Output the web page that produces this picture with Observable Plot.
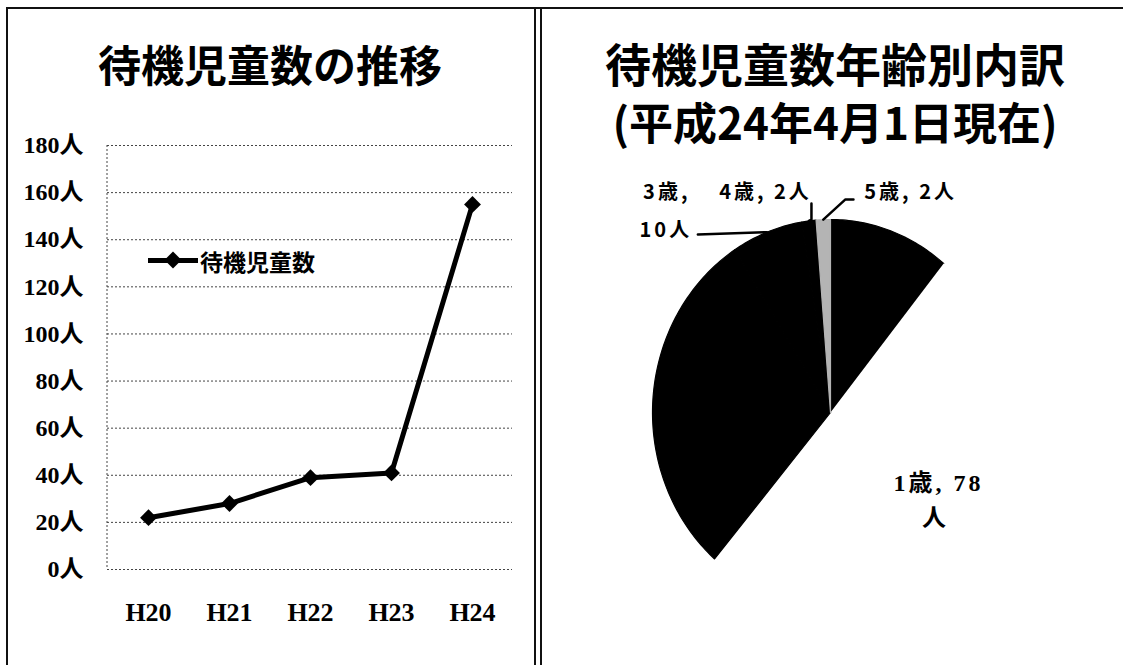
<!DOCTYPE html>
<html>
<head>
<meta charset="utf-8">
<script src="https://cdn.jsdelivr.net/npm/d3@7"></script>
<script src="https://cdn.jsdelivr.net/npm/@observablehq/plot@0.6"></script>
<style>
  html, body { margin: 0; padding: 0; background: #fff; }
  #stage { position: relative; width: 1123px; height: 665px; overflow: hidden; background: #fff; }
  .vline { position: absolute; background: #111; width: 2px; }
  .hline { position: absolute; background: #111; height: 2px; }
  .title { position: absolute; font-family: "Noto Sans CJK JP", sans-serif; font-weight: 700; color: #000; white-space: nowrap; text-align: center; }
  #left { position: absolute; left: 0; top: 120px; width: 534px; height: 545px; }
  #right { position: absolute; left: 541px; top: 150px; width: 582px; height: 515px; }
  #left svg, #right svg { max-width: none !important; display: block; }
  #legend { position: absolute; left: 148px; top: 248px; height: 24px; font-family: "Noto Sans CJK JP", sans-serif; font-weight: 700; font-size: 23px; color: #000; }
  #legend .ln { position: absolute; left: 0; top: 10px; width: 50px; height: 5px; background: #000; }
  #legend .dm { position: absolute; left: 19px; top: 6px; width: 12px; height: 12px; background: #000; transform: rotate(45deg); }
  #legend .tx { position: absolute; left: 52px; top: -4px; white-space: nowrap; }
  .pie text { letter-spacing: 3px; }
</style>
</head>
<body>
<div id="stage">
  <div class="hline" style="left:6px; top:7px; width:1117px;"></div>
  <div class="vline" style="left:6px; top:7px; height:658px;"></div>
  <div class="vline" style="left:534px; top:7px; height:658px;"></div>
  <div class="vline" style="left:540px; top:7px; height:658px;"></div>

  <div class="title" style="left:60px; width:420px; top:33px; font-size:43px; line-height:60px;">待機児童数の推移</div>
  <div class="title" style="left:555px; width:560px; top:33px; font-size:46px; line-height:58px;">待機児童数年齢別内訳</div>
  <div class="title" style="left:555px; width:560px; top:92px; font-size:44px; line-height:58px;">(平成24年4月1日現在)</div>

  <div id="left"></div>
  <div id="right"></div>
  <div id="legend"><div class="ln"></div><div class="dm"></div><div class="tx">待機児童数</div></div>
</div>
<script>
// ---- data ----
const years = ["H20", "H21", "H22", "H23", "H24"];
const waiting = [22, 28, 39, 41, 155];
const yTicks = [0, 20, 40, 60, 80, 100, 120, 140, 160, 180];

const ages = ["0歳", "1歳", "2歳", "3歳", "4歳", "5歳"];
const ageCounts = [17, 78, 46, 10, 2, 2];
const sliceColors = ["#000", "#fff", "#000", "#000", "#000", "#b4b4b4"];

// ---- line chart ----
const lineData = years.map((y, i) => ({year: y, count: waiting[i]}));

const frameLeft = (index, scales, values, dims) => {
  const g = d3.create("svg:line")
    .attr("x1", dims.marginLeft).attr("x2", dims.marginLeft)
    .attr("y1", scales.y(180)).attr("y2", scales.y(0))
    .attr("stroke", "#444").attr("stroke-dasharray", "2,2");
  return g.node();
};

const left = Plot.plot({
  width: 534,
  height: 545,
  marginLeft: 107,
  marginRight: 22,
  marginTop: 25,
  marginBottom: 96,
  style: {maxWidth: "none", overflow: "visible"},
  x: {type: "point", domain: years, padding: 0.5},
  y: {domain: [0, 180]},
  marks: [
    Plot.ruleY(yTicks, {stroke: "#444", strokeWidth: 1, strokeDasharray: "2,2"}),
    frameLeft,
    Plot.line(lineData, {x: "year", y: "count", stroke: "#000", strokeWidth: 5}),
    Plot.dot(lineData, {x: "year", y: "count", symbol: "diamond2", r: 7.6, fill: "#000", stroke: "none"}),
    Plot.axisX({tickSize: 0, tickPadding: 33, label: null, fontSize: 26, fontWeight: "bold",
      fontFamily: "'Liberation Serif', 'Noto Sans CJK JP', serif", fill: "#000"}),
    Plot.axisY({ticks: yTicks, tickFormat: d => d + "人", tickSize: 0, tickPadding: 24, label: null,
      fontSize: 24, fontWeight: "bold", fontFamily: "'Liberation Serif', 'Noto Sans CJK JP', serif", fill: "#000"})
  ]
});
document.getElementById("left").appendChild(left);

// ---- pie chart ----
const total = d3.sum(ageCounts);
let acc = 0;
const slices = ages.map((age, i) => {
  const a0 = acc / total * 2 * Math.PI;
  acc += ageCounts[i];
  const a1 = acc / total * 2 * Math.PI;
  const n = Math.max(4, Math.ceil((a1 - a0) / (Math.PI / 180)));
  const pts = [{x: 0, y: 0}];
  for (let k = 0; k <= n; k++) {
    const a = a0 + (a1 - a0) * k / n;
    pts.push({x: Math.sin(a), y: Math.cos(a)});
  }
  pts.push({x: 0, y: 0});
  const mid = (a0 + a1) / 2;
  return {age, count: ageCounts[i], color: sliceColors[i], pts, edge: {x: Math.sin(mid), y: Math.cos(mid)}};
});
const byAge = Object.fromEntries(slices.map(s => [s.age, s]));

// label layout (in pie-radius units)
const pieLabels = [
  {text: "3歳,", x: -0.92, y: 1.14, font: "sans"},
  {text: "10人", x: -0.925, y: 0.94, font: "sans"},
  {text: `4歳, ${ageCounts[4]}人`, x: -0.365, y: 1.14, font: "sans"},
  {text: `5歳, ${ageCounts[5]}人`, x: 0.45, y: 1.14, font: "sans"},
  {text: `1歳, ${ageCounts[1]}`, x: 0.607, y: -0.368, font: "serif"},
  {text: "人", x: 0.59, y: -0.55, font: "serif"}
];
const leaders = [
  [{x: -0.745, y: 0.922}, byAge["3歳"].edge],
  [{x: -0.107, y: 1.083}, {x: -0.107, y: 1.0}, byAge["4歳"].edge],
  [{x: 0.129, y: 1.104}, {x: 0.084, y: 1.104}, byAge["5歳"].edge]
];

const right = Plot.plot({
  className: "pie",
  width: 582,
  height: 515,
  marginLeft: 111,
  marginRight: 115,
  marginTop: 69,
  marginBottom: 60,
  style: {maxWidth: "none", overflow: "visible"},
  x: {domain: [-1, 1], axis: null},
  y: {domain: [-1, 1], axis: null},
  marks: [
    ...slices.map(s => Plot.line(s.pts, {x: "x", y: "y", fill: s.color,
      stroke: s.color === "#fff" ? "none" : s.color, strokeWidth: 1.2})),
    ...leaders.map(l => Plot.line(l, {x: "x", y: "y", stroke: "#000", strokeWidth: 2.5})),
    Plot.text(pieLabels.filter(d => d.font === "sans"), {x: "x", y: "y", text: "text", fontSize: 20,
      fontWeight: "bold", fontFamily: "'Noto Sans CJK JP', sans-serif", fill: "#000"}),
    Plot.text(pieLabels.filter(d => d.font === "serif"), {x: "x", y: "y", text: "text", fontSize: 24,
      fontWeight: "bold", fontFamily: "'Liberation Serif', 'Noto Sans CJK JP', serif", fill: "#000"})
  ]
});
document.getElementById("right").appendChild(right);
</script>
</body>
</html>
